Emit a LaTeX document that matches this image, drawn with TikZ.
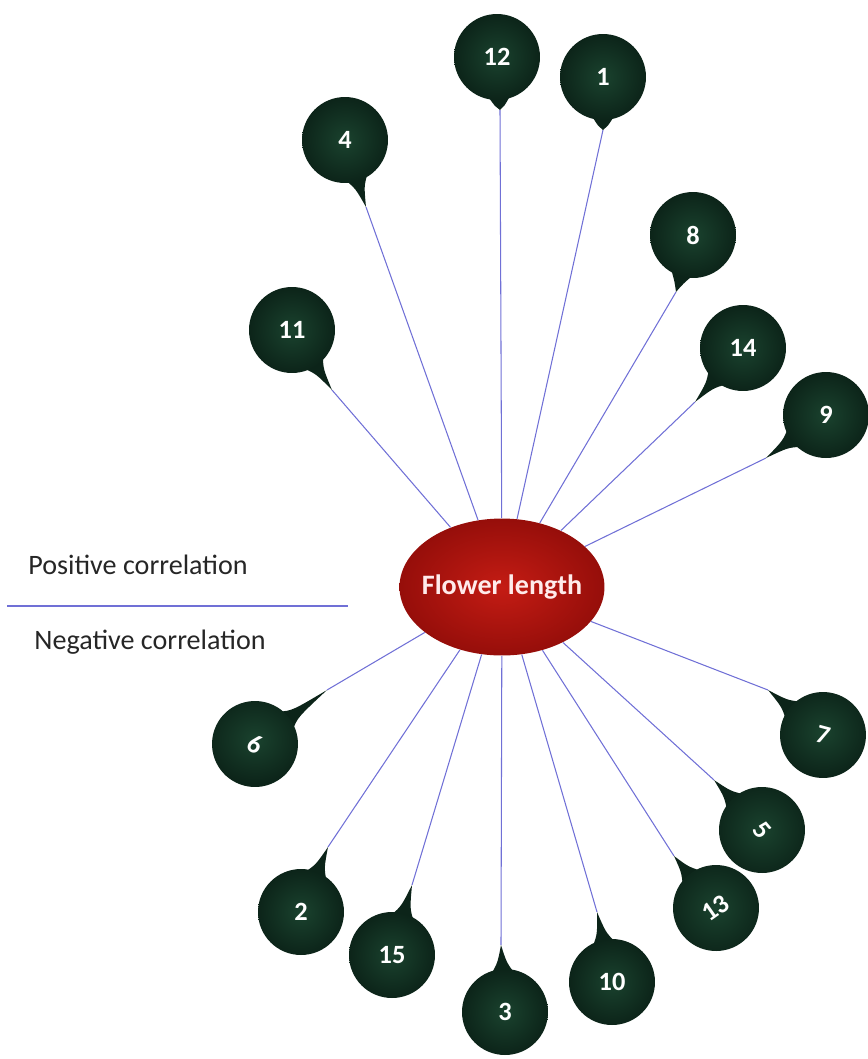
\documentclass[tikz,border=0pt]{standalone}
\usepackage{fontspec}
\setmainfont{Carlito}
\usepackage{xcolor}
\usetikzlibrary{calc, shapes.geometric}
\definecolor{bubgreen}{RGB}{26,66,46}
\definecolor{bubdark}{RGB}{12,36,25}
\definecolor{flowred}{RGB}{196,28,20}
\definecolor{flowdark}{RGB}{150,14,10}
\definecolor{linkblue}{RGB}{112,112,214}

\begin{document}
\begin{tikzpicture}[x=0.02cm, y=-0.02cm,
    bubble/.style={circle, minimum size=1.72cm, inner sep=0pt, shading=radial,
      inner color=bubgreen, outer color=bubdark, text=white,
      font=\bfseries\fontsize{15}{18}\selectfont},
    tail/.style={fill=bubdark},
    link/.style={linkblue, line width=0.6pt},
    note/.style={text=black!85, font=\fontsize{16}{19}\selectfont}]
    \useasboundingbox (0,0) rectangle (867,1059);

    % centre
    \node[ellipse, minimum width=4.1cm, minimum height=2.74cm, inner xsep=-0.17cm, inner ysep=0pt,
      shading=radial, inner color=flowred, outer color=flowdark, text=red!8!white,
      font=\bfseries\fontsize{16}{19}\selectfont] (fl) at (502,587) {Flower length};

    % legend
    \node[note] (pos) at (138,565) {Positive correlation};
    \node[note] (neg) at (150,642) {Negative correlation};
    \coordinate (divl) at (7,606);
    \coordinate (divr) at (348,606);
    \draw[link] (divl) -- (divr);

    % bubbles: number / centre / tail tip / text angle
    \foreach \n/\cx/\cy/\tx/\ty/\r in {
        12/497/57/500/110/0, 1/603/77/603/130/0, 4/345/140/366/207/0,
        8/693/235/676/292/0, 11/292/330/332/390/0, 14/743/348/695/402/0,
        9/826/415/766/458/0, 6/255/744/327/690/-25, 7/823/735/768/690/-15,
        5/762/830/714/780/-50, 13/716/908/674/856/35, 10/612/982/597/912/0,
        3/505/1012/501/945/0, 15/392/955/412/885/0, 2/301/912/328/847/0}{
      \coordinate (c\n) at (\cx,\cy);
      \coordinate (t\n) at (\tx,\ty);
      \draw[link] (fl) -- (t\n);
      \fill[tail] (t\n) .. controls ($(c\n)!1.0cm!5:(t\n)$) .. ($(c\n)!0.8cm!17:(t\n)$)
        -- ($(c\n)!0.8cm!-17:(t\n)$) .. controls ($(c\n)!1.0cm!-5:(t\n)$) .. (t\n) -- cycle;
      \node[bubble, rotate=\r] (b\n) at (c\n) {\n};
    }
\end{tikzpicture}
\end{document}
